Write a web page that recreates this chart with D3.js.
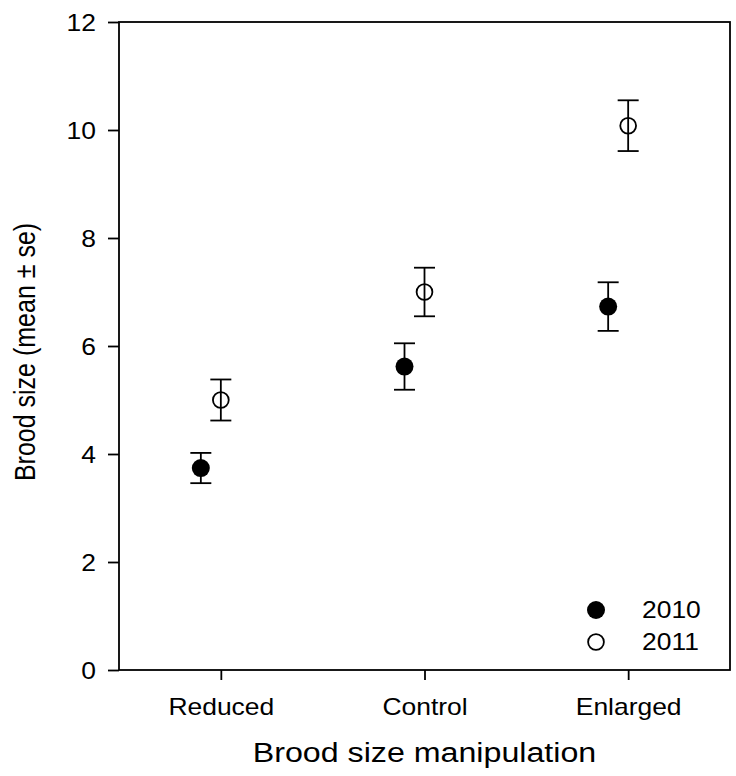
<!DOCTYPE html>
<html lang="en">
  <head>
    <meta charset="utf-8">
    <title>Brood size by manipulation</title>
    <script src="https://cdn.jsdelivr.net/npm/d3@7"></script>
    <style>
      body { margin: 0; background: #fff; }
      svg text { font-family: "Liberation Sans", Arial, sans-serif; fill: #000; }
      .frame { fill: none; stroke: #000; stroke-width: 1.8px; }
      .tick line { stroke: #000; stroke-width: 1.8px; }
      .err { stroke: #000; stroke-width: 1.8px; }
    </style>
  </head>
  <body>
    <svg id="chart" width="736" height="776"></svg>
    <script>
      // values
      var categories = ["Reduced", "Control", "Enlarged"];
      var mean2010 = [3.74, 5.62, 6.73];
      var se2010 = [0.28, 0.43, 0.45];
      var mean2011 = [5.00, 7.00, 10.08];
      var se2011 = [0.38, 0.45, 0.47];
      var yTicks = [0, 2, 4, 6, 8, 10, 12];
      var years = ["2010", "2011"];

      var margin = {top: 22, right: 6, bottom: 106, left: 119},
          width = 736 - margin.left - margin.right,
          height = 776 - margin.top - margin.bottom;

      // the source picture is a bit wider than tall, so text gets stretched a little
      var sx = 1.15;

      var svg = d3.select("#chart");
      var g = svg.append("g")
          .attr("transform", "translate(" + margin.left + "," + margin.top + ")");

      var x = d3.scalePoint().domain(categories).range([0, width]).padding(0.5);
      var y = d3.scaleLinear().domain([0, 12]).range([height, 0]);

      // axes
      var yAxis = g.append("g").call(d3.axisLeft(y).tickValues(yTicks).tickSize(11).tickFormat(d3.format("d")));
      yAxis.select(".domain").remove();
      yAxis.selectAll("text")
          .attr("x", null).attr("dy", null)
          .style("font-size", "23px")
          .attr("text-anchor", "end")
          .attr("transform", "translate(-23,8) scale(" + sx + ",1)");

      var xAxis = g.append("g")
          .attr("transform", "translate(0," + height + ")")
          .call(d3.axisBottom(x).tickSize(10));
      xAxis.select(".domain").remove();
      xAxis.selectAll("text")
          .attr("y", null).attr("dy", null)
          .style("font-size", "23px")
          .attr("text-anchor", "middle")
          .attr("transform", "translate(0,45) scale(" + sx + ",1)");

      g.append("rect").attr("class", "frame")
          .attr("x", 0).attr("y", 0)
          .attr("width", width).attr("height", height);

      // points + error bars
      var rows = [];
      categories.forEach(function(c, i) {
        rows.push({cat: c, year: "2010", m: mean2010[i], se: se2010[i], dx: -20});
        rows.push({cat: c, year: "2011", m: mean2011[i], se: se2011[i], dx: 0});
      });

      var pt = g.selectAll(".pt").data(rows).enter().append("g")
          .attr("class", "pt")
          .attr("transform", function(d) { return "translate(" + (x(d.cat) + d.dx) + ",0)"; });

      pt.append("line").attr("class", "err")
          .attr("x1", 0).attr("x2", 0)
          .attr("y1", function(d) { return y(d.m - d.se); })
          .attr("y2", function(d) { return y(d.m + d.se); });
      pt.append("line").attr("class", "err")
          .attr("x1", -10.5).attr("x2", 10.5)
          .attr("y1", function(d) { return y(d.m + d.se); })
          .attr("y2", function(d) { return y(d.m + d.se); });
      pt.append("line").attr("class", "err")
          .attr("x1", -10.5).attr("x2", 10.5)
          .attr("y1", function(d) { return y(d.m - d.se); })
          .attr("y2", function(d) { return y(d.m - d.se); });

      function marker(sel, year) {
        if (year === "2010") {
          sel.attr("r", 9).attr("fill", "#000").attr("stroke", "none");
        } else {
          sel.attr("r", 7.9).attr("fill", "none").attr("stroke", "#000").attr("stroke-width", 1.8);
        }
      }

      pt.append("circle")
          .attr("cx", 0)
          .attr("cy", function(d) { return y(d.m); })
          .each(function(d) { marker(d3.select(this), d.year); });

      // legend
      var legend = g.selectAll(".leg").data(years).enter().append("g")
          .attr("class", "leg")
          .attr("transform", function(d, i) { return "translate(" + (width - 134) + "," + (height - 60 + i * 32) + ")"; });
      legend.append("circle").attr("cx", 0).attr("cy", 0)
          .each(function(d) { marker(d3.select(this), d); });
      legend.append("text")
          .style("font-size", "23px")
          .attr("transform", "translate(46,8) scale(" + sx + ",1)")
          .text(function(d) { return d; });

      // axis titles
      svg.append("text")
          .style("font-size", "28px")
          .attr("text-anchor", "middle")
          .attr("transform", "translate(" + (margin.left + width / 2) + ",762) scale(" + sx + ",1)")
          .text("Brood size manipulation");

      svg.append("text")
          .style("font-size", "25px")
          .attr("text-anchor", "middle")
          .attr("transform", "translate(35," + (margin.top + height / 2 + 6) + ") scale(" + sx + ",1) rotate(-90)")
          .text("Brood size (mean ± se)");
    </script>
  </body>
</html>
